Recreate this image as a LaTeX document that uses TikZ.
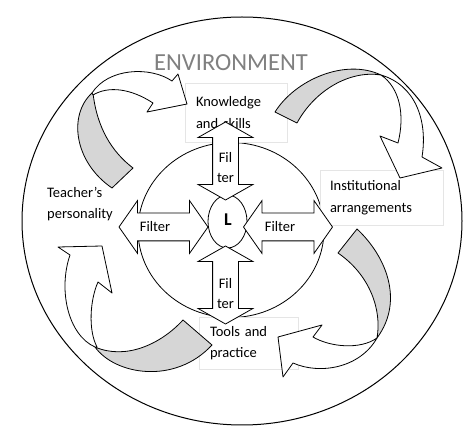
\documentclass[tikz,border=0pt]{standalone}
\usepackage{fontspec}
\setmainfont{Carlito}
\usetikzlibrary{shapes.geometric,shapes.arrows}

\tikzset{
  txt/.style={font=\fontsize{14.5}{21.5}\selectfont, align=left, inner sep=0pt},
  tbox/.style={txt, draw=black!10, fill=white, line width=0.6pt, inner xsep=11pt},
  filt/.style={double arrow, draw, fill=white, line width=0.8pt, inner sep=0pt},
  ftxt/.style={font=\fontsize{14.5}{20}\selectfont, align=center, inner sep=0pt},
  hfilt/.style={filt, text height=27pt, text depth=0pt, double arrow head extend=12.5pt,
    double arrow tip angle=110, minimum height=89pt},
  vfilt/.style={filt, shape border rotate=90, text width=25pt, text height=0pt, text depth=0pt,
    double arrow head extend=14.5pt, double arrow tip angle=121, minimum height=78pt},
  band/.style={draw, fill=black!16, line width=0.8pt, line join=round},
  body/.style={draw, fill=white, line width=0.8pt, line join=round}
}

\begin{document}
\begin{tikzpicture}[x=1pt, y=-1pt]
  \useasboundingbox (0,0) rectangle (474,435);

  % Define nodes
  \node[ellipse, draw, line width=1pt, minimum width=440pt, minimum height=408pt] (E) at (242,221) {};
  \node[ellipse, draw, line width=0.8pt, minimum width=186pt, minimum height=175pt] (C) at (231,230) {};
  \node[ellipse, draw, line width=0.8pt, fill=white, minimum width=39pt, minimum height=53pt] (Lo) at (227.5,221.5) {};
  \node[font=\fontsize{24.5}{26}\selectfont, text=black!50, inner sep=0pt] (env) at (231,63) {ENVIRONMENT};

  \node[tbox, text width=80pt, minimum height=59pt] (K) at (236,112.5) {Knowledge\\and skills};
  \node[tbox, text width=103pt, inner xsep=10pt, minimum height=55pt] (I) at (381.5,197.5) {Institutional\\arrangements};
  \node[tbox, text width=77pt, minimum height=52pt] (P) at (248.5,343) {Tools and\\practice};
  \node[txt, anchor=west] (T) at (47,204) {Teacher's\\personality};

  % Filters
  \node[hfilt] (fl) at (163.5,227) {};
  \node[hfilt] (fr) at (288,227) {};
  \node[vfilt] (ft) at (225.5,161) {};
  \node[vfilt] (fb) at (225.5,285) {};
  \node[ftxt] (flt) at ([xshift=-8.5pt]fl.center) {Filter};
  \node[ftxt] (frt) at ([xshift=-8pt]fr.center) {Filter};
  \node[ftxt] (ftt) at ([yshift=-7pt]ft.center) {Fil\\ter};
  \node[ftxt] (fbt) at ([yshift=-9pt]fb.center) {Fil\\ter};
  \node[font=\fontsize{18}{20}\selectfont\bfseries, inner sep=0pt] (L) at (228,220) {L};

  % Curved arrows
  \draw[band] (92,93) .. controls (68,115) and (74,162) .. (112,188) -- (133,168)
    .. controls (112,152) and (97,128) .. (93,93) -- cycle;
  \draw[body] (92,93) .. controls (108,68) and (150,66) .. (172,81) -- (178,74) -- (187,104)
    -- (147,112) -- (153,103) .. controls (130,88) and (108,86) .. (93,95) -- cycle;

  \draw[band] (275,112) .. controls (295,80) and (345,58) .. (381,75)
    .. controls (350,70) and (315,90) .. (297,123) -- cycle;
  \draw[body] (381,75) .. controls (400,88) and (405,115) .. (398,143) -- (380,136) -- (400,178)
    -- (442,168) -- (422,157) .. controls (428,120) and (415,85) .. (381,75) -- cycle;

  \draw[band] (183,320) .. controls (160,345) and (125,360) .. (95,347)
    .. controls (115,375) and (175,385) .. (212,345) -- cycle;
  \draw[body] (95,347) .. controls (68,335) and (58,290) .. (70,255) -- (58,247) -- (102,246)
    -- (112,293) -- (98,282) .. controls (90,300) and (88,330) .. (97,347) -- cycle;

  \draw[band] (357,229) .. controls (385,255) and (405,300) .. (377,338)
    .. controls (382,310) and (370,275) .. (338,253) -- cycle;
  \draw[body] (377,338) .. controls (360,368) and (320,375) .. (293,363) -- (283,377) -- (278,337)
    -- (322,325) -- (313,337) .. controls (330,347) and (360,350) .. (377,338) -- cycle;
\end{tikzpicture}
\end{document}
